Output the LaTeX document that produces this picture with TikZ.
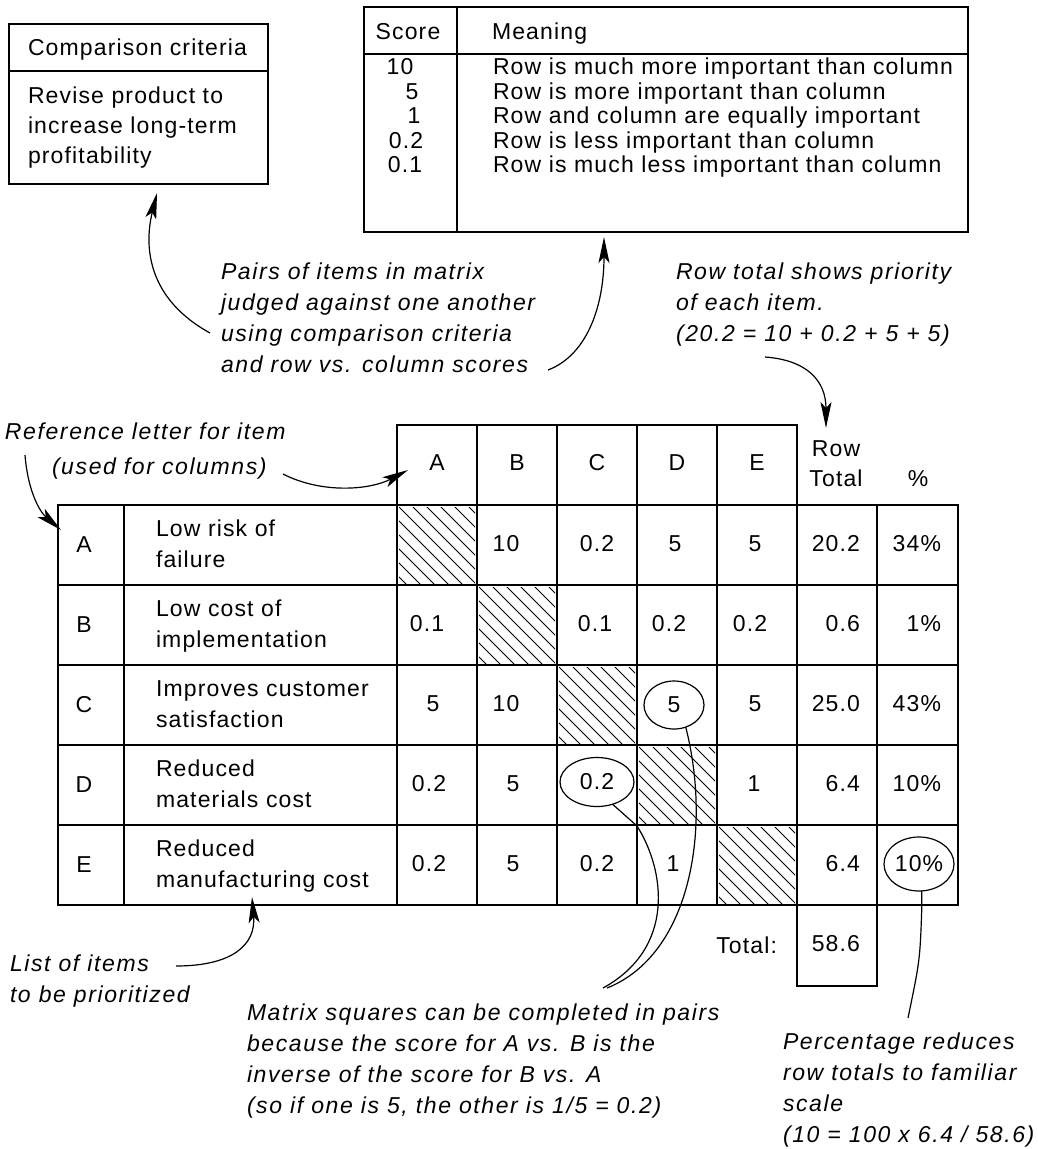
\documentclass[tikz,border=0pt]{standalone}
\usepackage{fontspec}
\setmainfont{Liberation Sans}[LetterSpace=5,ItalicFeatures={LetterSpace=7}]
\usetikzlibrary{arrows.meta,shapes.geometric}
\begin{document}
\begin{tikzpicture}[x=1pt,y=-1pt,
  every node/.style={inner sep=0pt,outer sep=0pt},
  txt/.style={font=\fontsize{23}{30}\selectfont},
  note/.style={font=\fontsize{23}{31}\selectfont\itshape,align=left,anchor=base west},
  frame/.style={line width=1.7pt,line cap=rect},
  hatchline/.style={line width=0.9pt},
  lead/.style={line width=1.2pt,-{Stealth[length=26pt,width=11pt,inset=6pt]}},
  tie/.style={line width=1.2pt},
  ring/.style={draw,ellipse,line width=1.2pt,inner sep=0pt}
]
\fill[white] (0,0) rectangle (1038,1149);
\useasboundingbox (0,0) rectangle (1038,1149);

% ---- comparison criteria box (multi-line nodes sit on their last baseline)
\draw[frame] (9,24) rectangle (268,184);
\draw[frame] (9,71) -- (268,71);
\node[txt,anchor=base west] (crithead) at (28,55) {Comparison criteria};
\node[txt,anchor=base west,align=left] (critbody) at (28,163) {Revise product to\\increase long-term\\profitability};
\coordinate (critfoot) at (157,193);

% ---- score legend
\draw[frame] (364,7) rectangle (968,232);
\draw[frame] (364,54) -- (968,54);
\draw[frame] (457,7) -- (457,232);
\node[txt,anchor=base] (scorehead) at (408,39) {Score};
\node[txt,anchor=base west] (meanhead) at (492,39) {Meaning};
\foreach \v/\x [count=\i] in {10/400,5/412,1/414,0.2/406,0.1/405}
  \node[txt,anchor=base] (sv\i) at (\x,{74.5+24.6*(\i-1)}) {\v};
\node[txt,anchor=base west,align=left,font=\fontsize{23}{24.6}\selectfont] (meanings) at (493,172.9)
  {Row is much more important than column\\Row is more important than column\\Row and column are equally important\\Row is less important than column\\Row is much less important than column};
\coordinate (scorefoot) at (604,237);

% ---- hatched diagonal cells
\foreach \k in {0,...,4} {
  \begin{scope}
    \clip ({397+80*\k+2},{505+80*\k+2}) rectangle ({397+80*\k+78},{505+80*\k+78});
    \foreach \d in {-84,-70,...,84}
      \draw[hatchline] ({397+80*\k+\d},{505+80*\k}) -- ({397+80*\k+\d+80},{505+80*\k+80});
  \end{scope}
}

% ---- matrix grid
\draw[frame] (397,425) -- (797,425);
\foreach \y in {505,585,665,745,825,905}
  \draw[frame] (58,\y) -- (958,\y);
\draw[frame] (58,505) -- (58,905);
\draw[frame] (124,505) -- (124,905);
\foreach \x in {397,477,557,637,717}
  \draw[frame] (\x,425) -- (\x,905);
\draw[frame] (797,425) -- (797,986) -- (877,986) -- (877,505);
\draw[frame] (958,505) -- (958,905);

% ---- column headings
\foreach \l [count=\i from 0] in {A,B,C,D,E}
  \node[txt] (h\l) at ({437+80*\i},463) {\l};
\node[txt,anchor=base] (hrow) at (836,456) {Row};
\node[txt,anchor=base] (htot) at (836,486) {Total};
\node[txt,anchor=base] (hpct) at (918,486) {\%};
\coordinate (rowtip) at (826,428);

% ---- row letters and items
\foreach \l [count=\i from 0] in {A,B,C,D,E}
  \node[txt] (r\l) at (84,{545+80*\i}) {\l};
\tikzset{item/.style={txt,anchor=base west,align=left,font=\fontsize{23}{31}\selectfont}}
\node[item] (iA) at (156,567) {Low risk of\\failure};
\node[item] (iB) at (156,647) {Low cost of\\implementation};
\node[item] (iC) at (156,727) {Improves customer\\satisfaction};
\node[item] (iD) at (156,807) {Reduced\\materials cost};
\node[item] (iE) at (156,887) {Reduced\\manufacturing cost};

% ---- scores
\foreach \x/\y/\v [count=\i] in {
  506/544/10, 597/544/0.2, 675/544/5, 755/544/5,
  427/624/0.1, 595/624/0.1, 669/624/0.2, 750/624/0.2,
  433/704/5, 506/704/10, 755/704/5,
  429/784/0.2, 513/784/5, 754/784/1,
  429/864/0.2, 513/864/5, 597/864/0.2, 673/864/1}
  \node[txt] (s\i) at (\x,\y) {\v};
\node[txt,ring,minimum width=60pt,minimum height=48pt] (o5) at (674,705) {5};
\node[txt,ring,minimum width=74pt,minimum height=49pt] (o02) at (597,782) {0.2};

% ---- row totals and percentages
\foreach \v [count=\i from 0] in {20.2,0.6,25.0,6.4,6.4}
  \node[txt,anchor=east] (t\i) at (860,{544+80*\i}) {\v};
\foreach \v [count=\i from 0] in {34,1,43,10}
  \node[txt,anchor=east] (p\i) at (941,{544+80*\i}) {\v\%};
\node[txt,ring,minimum width=70pt,minimum height=54pt] (o10) at (919,864) {10\%};
\node[txt,anchor=base east] (totlab) at (777,953) {Total:};
\node[txt,anchor=east] (totval) at (860,944) {58.6};

% ---- notes
\node[note] (pairs) at (221,372) {Pairs of items in matrix\\judged against one another\\using comparison criteria\\and row vs. column scores};
\node[note] (rowtot) at (676,341) {Row total shows priority\\of each item.\\(20.2 = 10 + 0.2 + 5 + 5)};
\node[note] (refl) at (5,439) {Reference letter for item};
\node[note] (refu) at (52,474) {(used for columns)};
\node[note] (listn) at (10,1002) {List of items\\to be prioritized};
\node[note] (matn) at (247,1113) {Matrix squares can be completed in pairs\\because the score for A vs. B is the\\inverse of the score for B vs. A\\(so if one is 5, the other is 1/5 = 0.2)};
\node[note] (pctn) at (783,1142) {Percentage reduces\\row totals to familiar\\scale\\(10 = 100 x 6.4 / 58.6)};

% ---- leader arrows
\coordinate (pairsL) at (210,333);
\coordinate (pairsR) at (548,370);
\coordinate (rowtotS) at (765,357);
\coordinate (refA) at (25,455);
\coordinate (refB) at (283,474);
\coordinate (refAtip) at (61,530);
\coordinate (refBtip) at (408,470);
\coordinate (listR) at (176,966);
\coordinate (listtip) at (252,897);
\draw[lead] (pairsL) .. controls (150,300) and (143,250) .. (critfoot);
\draw[lead] (pairsR) .. controls (585,356) and (604,310) .. (scorefoot);
\draw[lead] (rowtotS) .. controls (806,360) and (826,380) .. (rowtip);
\draw[lead] (refA) .. controls (28,492) and (40,512) .. (refAtip);
\draw[lead] (refB) .. controls (322,494) and (370,490) .. (refBtip);
\draw[lead] (listR) .. controls (232,966) and (256,945) .. (listtip);

% ---- ties from circled entries to their notes
\coordinate (pairend1) at (607,988);
\coordinate (pairend2) at (603,988);
\coordinate (pctend) at (908,1018);
\draw[tie] (o5.-62) .. controls (712,830) and (690,955) .. (pairend1);
\draw[tie] (o02.-55) -- (637,826) .. controls (665,870) and (676,948) .. (pairend2);
\draw[tie] (o10.-84) -- ++(0,16) .. controls (920,960) .. (pctend);
\end{tikzpicture}
\end{document}
